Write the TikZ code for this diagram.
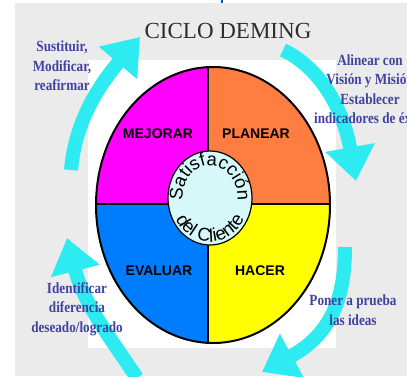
\documentclass[tikz,border=0pt]{standalone}
\usepackage{fontspec}
\setmainfont{Liberation Serif}
\setsansfont{Liberation Sans}
\newfontfamily\notefont[FakeStretch=0.85,BoldFont={* Bold}]{Liberation Serif}
\usepackage{tikz}
\usetikzlibrary{arrows.meta,shapes.geometric,decorations.text}
\definecolor{bggrey}{RGB}{235,235,235}
\definecolor{cyclecol}{RGB}{45,235,240}
\definecolor{mejcol}{RGB}{255,0,255}
\definecolor{plancol}{RGB}{255,125,65}
\definecolor{evalcol}{RGB}{0,125,255}
\definecolor{hacercol}{RGB}{255,255,0}
\definecolor{innercol}{RGB}{215,248,248}
\definecolor{notecol}{RGB}{65,65,160}
\definecolor{titlecol}{RGB}{45,45,45}
\newcommand{\circfont}{\sffamily\fontsize{18.5}{18.5}\selectfont}
\tikzset{quad/.style={font=\sffamily\bfseries\fontsize{14}{14}\selectfont,text=black},
        note/.style={font=\notefont\bfseries\fontsize{15.5}{19.5}\selectfont,text=notecol,align=center},
        cycarrow/.style={draw=cyclecol,line width=14pt,-{Triangle[width=48pt,length=34pt]}}}

\begin{document}
\begin{tikzpicture}[x=1pt,y=-1pt]
  \useasboundingbox (0,0) rectangle (407,376);
  \clip (0,0) rectangle (407,376);
  \fill[white] (0,0) rectangle (407,376);
  \fill[bggrey] (15,3) rectangle (407,376);
  \fill[blue!70!cyan] (221,0) rectangle (223,3);
  \fill[white] (88,60) rectangle (336,348);
  \node[font=\fontsize{23}{23}\selectfont,text=titlecol] (title) at (228,31) {CICLO DEMING};
  % flechas del ciclo
  \draw[cycarrow] (71,170) .. controls (75,125) and (95,90) .. (140,37);
  \draw[cycarrow] (283,50) .. controls (315,65) and (342,102) .. (356,181);
  \draw[cycarrow] (345,247) .. controls (345,300) and (330,335) .. (262,372);
  \draw[cycarrow] (137,378) .. controls (112,340) and (84,305) .. (67,238);
  % notas
  \node[note] (sust) at (62,66) {Sustituir,\\Modificar,\\reafirmar};
  \node[note] (alin) at (370,89) {Alinear con\\Visión y Misión\\Establecer\\indicadores de éxito};
  \node[note] (poner) at (353,310) {Poner a prueba\\las ideas};
  \node[note] (ident) at (77,309) {Identificar\\diferencia\\deseado/logrado};
  % cuadrantes
  \begin{scope}
    \clip (213,205) ellipse (117 and 138);
    \fill[mejcol] (90,60) rectangle (208,204);
    \fill[plancol] (208,60) rectangle (340,204);
    \fill[evalcol] (90,204) rectangle (208,350);
    \fill[hacercol] (208,204) rectangle (340,350);
    \draw[line width=1.5pt] (208,60) -- (208,350) (90,204) -- (340,204);
  \end{scope}
  \draw[line width=2pt] (213,205) ellipse (117 and 138);
  \node[quad] (mej) at (158,134) {MEJORAR};
  \node[quad] (plan) at (256,134) {PLANEAR};
  \node[quad] (eval) at (159,271) {EVALUAR};
  \node[quad] (hacer) at (260,271) {HACER};
  % centro
  \node[draw,line width=1.2pt,fill=innercol,ellipse,minimum width=84pt,minimum height=94pt,inner sep=0pt] (cliente) at (210,198) {};
  \begin{scope}[shift={(210,198)},y=1pt]
    \path[decorate,decoration={text along path,text align=center,text={|\circfont|Satisfacción}}]
      (205:27.5 and 32.5) arc[start angle=205,end angle=-25,x radius=27.5,y radius=32.5];
    \path[decorate,decoration={text along path,text align=center,text={|\circfont|del Cliente}}]
      (190:39 and 44) arc[start angle=190,end angle=350,x radius=39,y radius=44];
  \end{scope}
\end{tikzpicture}
\end{document}
